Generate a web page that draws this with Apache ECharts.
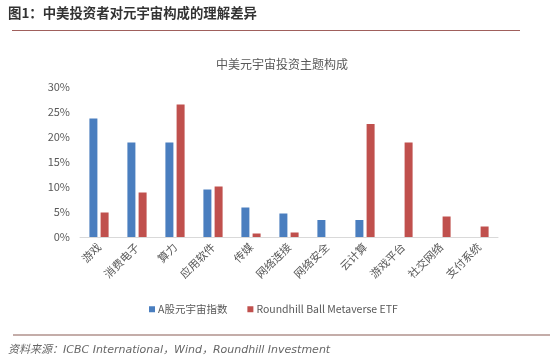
<!DOCTYPE html>
<html><head><meta charset="utf-8">
<script src="https://cdn.jsdelivr.net/npm/echarts@6/dist/echarts.min.js"></script>
<style>html,body{margin:0;padding:0;background:#fff}#c{width:550px;height:362px}</style>
</head><body><div id="c"></div>
<script>
const categories = ['游戏','消费电子','算力','应用软件','传媒','网络连接','网络安全','云计算','游戏平台','社交网络','支付系统'];
const seriesA = [23.7, 18.9, 18.9, 9.5, 5.9, 4.7, 3.4, 3.4, null, null, null];
const seriesB = [4.9, 8.9, 26.5, 10.1, 0.7, 0.9, null, 22.6, 18.9, 4.1, 2.1];
const seriesNames = ['A股元宇宙指数', 'Roundhill Ball Metaverse ETF'];
const yTicks = [0, 5, 10, 15, 20, 25, 30];

const chart = echarts.init(document.getElementById('c'), null, {renderer: 'canvas'});
const font = '"Noto Sans CJK SC", "Noto Sans", sans-serif';
chart.setOption({
  animation: false,
  backgroundColor: '#fff',
  title: {
    text: '中美元宇宙投资主题构成', left: 277, top: 53, textAlign: 'center',
    textStyle: {fontSize: 12, fontWeight: 'normal', color: '#595959', fontFamily: font}
  },
  legend: {
    data: seriesNames, left: 144, top: 299, itemWidth: 6, itemHeight: 6, itemGap: 20,
    icon: 'rect', textStyle: {fontSize: 10.5, color: '#595959', fontFamily: font, padding: [0,0,0,-2]}
  },
  grid: {left: 80, right: 52, top: 87, bottom: 125},
  xAxis: {
    type: 'category', data: categories,
    axisLine: {lineStyle: {color: '#d9d9d9'}},
    axisTick: {show: false},
    axisLabel: {interval: 0, rotate: 45, fontSize: 11, color: '#595959', fontFamily: font, margin: 8}
  },
  yAxis: {
    type: 'value', min: 0, max: 30, interval: 5,
    splitLine: {show: false},
    axisLine: {show: false}, axisTick: {show: false},
    axisLabel: {formatter: v => v + '%', fontSize: 11, color: '#595959', fontFamily: font, margin: 10}
  },
  series: [
    {name: seriesNames[0], type: 'bar', data: seriesA, barWidth: 8, barGap: '40%', itemStyle: {color: '#4a7ebf'}},
    {name: seriesNames[1], type: 'bar', data: seriesB, barWidth: 8, itemStyle: {color: '#c0504d'}}
  ],
  graphic: [
    {type: 'text', left: 8, top: 6, style: {text: '图1：中美投资者对元宇宙构成的理解差异', fontSize: 13.4, fontWeight: 'bold', fill: '#333', fontFamily: font}},
    {type: 'rect', shape: {x: 12, y: 30, width: 508, height: 1}, style: {fill: '#a0605c'}},
    {type: 'rect', shape: {x: 13, y: 334, width: 537, height: 2}, style: {fill: '#c4ada9'}},
    {type: 'text', left: 8, top: 345, style: {text: '资料来源：ICBC International，Wind，Roundhill Investment', fontSize: 11, fontStyle: 'italic', fill: '#666', fontFamily: '"DejaVu Sans", "Noto Sans CJK SC", sans-serif'}}
  ]
});
</script></body></html>
